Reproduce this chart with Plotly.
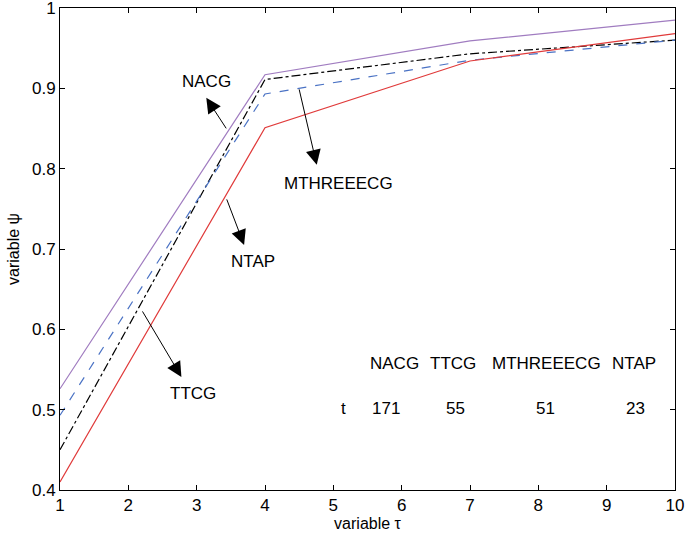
import plotly.graph_objects as go

x = [1, 4, 7, 10]
nacg = [0.526, 0.917, 0.959, 0.985]
ttcg = [0.450, 0.911, 0.943, 0.960]
mthreeecg = [0.493, 0.893, 0.935, 0.960]
ntap = [0.410, 0.851, 0.934, 0.968]

table_header = ["NACG", "TTCG", "MTHREEECG", "NTAP"]
table_values = ["171", "55", "51", "23"]

FONT = "Liberation Sans, Arial, sans-serif"
FS = 17

fig = go.Figure()
fig.add_trace(go.Scatter(x=x, y=nacg, mode="lines", name="NACG",
                         line=dict(color="#A07CC0", width=1.2)))
fig.add_trace(go.Scatter(x=x, y=ttcg, mode="lines", name="TTCG",
                         line=dict(color="black", width=1.2, dash="dashdot")))
fig.add_trace(go.Scatter(x=x, y=mthreeecg, mode="lines", name="MTHREEECG",
                         line=dict(color="#4A72C4", width=1.2, dash="dash")))
fig.add_trace(go.Scatter(x=x, y=ntap, mode="lines", name="NTAP",
                         line=dict(color="#E03A3A", width=1.2)))

# reference pixel positions -> data coords (reference plot area: x 60..678, y 8..490)
def px2x(p):
    return 1 + (p - 60) / 68.67

def px2y(p):
    return 0.4 + (490 - p) / 803.0

annotations = []
arrows = [((228, 130), (207, 98)),
          ((300, 88), (318, 165)),
          ((227, 198), (245, 245)),
          ((142, 310), (182, 377))]
for (tx, ty), (hx, hy) in arrows:
    annotations.append(dict(x=px2x(hx), y=px2y(hy), ax=px2x(tx), ay=px2y(ty),
                            xref="x", yref="y", axref="x", ayref="y",
                            text="", showarrow=True, arrowhead=2, arrowsize=3,
                            arrowwidth=1, arrowcolor="black"))
labels = [("NACG", 207, 82), ("MTHREEECG", 340, 184), ("NTAP", 254, 262), ("TTCG", 194, 394)]
for t, lx, ly in labels:
    annotations.append(dict(x=px2x(lx), y=px2y(ly), xref="x", yref="y", text=t,
                            showarrow=False, font=dict(family=FONT, size=FS, color="black")))

hx = [396, 455, 549, 637]
for t, cx in zip(table_header, hx):
    annotations.append(dict(x=px2x(cx), y=px2y(364), xref="x", yref="y", text=t,
                            showarrow=False, font=dict(family=FONT, size=FS, color="black")))
annotations.append(dict(x=px2x(345), y=px2y(409), xref="x", yref="y", text="t",
                        showarrow=False, font=dict(family=FONT, size=FS, color="black")))
vx = [388, 457, 548, 638]
for t, cx in zip(table_values, vx):
    annotations.append(dict(x=px2x(cx), y=px2y(409), xref="x", yref="y", text=t,
                            showarrow=False, font=dict(family=FONT, size=FS, color="black")))

axis_common = dict(showgrid=False, zeroline=False, showline=True, linecolor="black",
                   linewidth=1, mirror="ticks", ticks="inside", ticklen=5,
                   tickcolor="black", ticklabeloverflow="allow",
                   tickfont=dict(family=FONT, size=FS, color="black"))

fig.update_layout(
    width=685, height=536,
    margin=dict(l=60, r=10, t=8, b=46, autoexpand=False),
    paper_bgcolor="white", plot_bgcolor="white",
    showlegend=False,
    annotations=annotations,
    xaxis=dict(range=[1, 10], tickvals=list(range(1, 11)),
               title=dict(text="variable τ", font=dict(family=FONT, size=16, color="black"), standoff=0),
               **axis_common),
    yaxis=dict(range=[0.4, 1], tickvals=[0.4, 0.5, 0.6, 0.7, 0.8, 0.9, 1],
               ticktext=["0.4", "0.5", "0.6", "0.7", "0.8", "0.9", "1"],
               title=dict(text="variable ψ", font=dict(family=FONT, size=16, color="black"), standoff=8),
               **axis_common),
)

fig.write_html("out.html", config={"displayModeBar": False},
               post_script="document.body.style.margin='0';document.body.style.padding='0';document.body.style.overflow='hidden';")
